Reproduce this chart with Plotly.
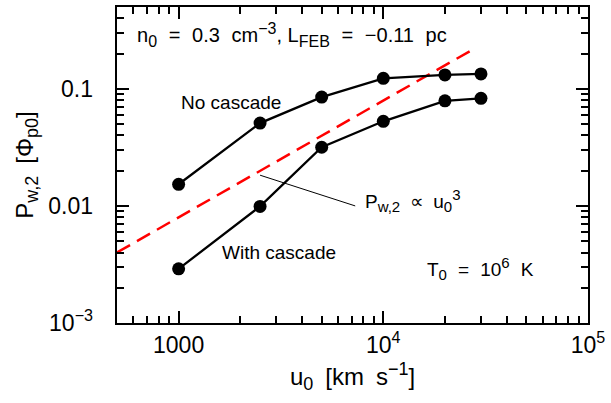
import plotly.graph_objects as go

# Wind power vs. inflow speed, with and without the turbulent cascade
u0 = [1000, 2500, 5000, 10000, 20000, 30000]
p_no_cascade = [0.0153, 0.051, 0.085, 0.123, 0.1315, 0.134]
p_with_cascade = [0.0029, 0.0099, 0.0317, 0.0528, 0.079, 0.083]

# reference power-law guide line
guide_u = [500, 28400]
guide_p = [0.004, 0.225]

# leader line from the guide to its label
leader_u = [2500, 7290]
leader_p = [0.0183, 0.0100]

x_tickvals = [1000, 1e4, 1e5]
x_ticktext = ["1000", "10<sup>4</sup>", "10<sup>5</sup>"]
y_tickvals = [1e-3, 0.01, 0.1]
y_ticktext = ["10<sup>\u22123</sup>", "0.01", "0.1"]

x_minor = [m * 10 ** e for e in (2, 3, 4) for m in range(2, 10) if 500 < m * 10 ** e < 1e5]
y_minor = [m * 10.0 ** e for e in (-3, -2, -1) for m in range(2, 10) if m * 10.0 ** e < 0.5]

FONT = "Liberation Sans, Arial, Helvetica, sans-serif"
SP = "\u2002"            # wide word gap
SP2 = "\u2002\u200a"     # wider gap
# invisible spacer that keeps the y tick labels clear of the frame
PAD = "<span style='color:rgba(0,0,0,0)'>\u20090</span>"


def sub(t, px=15):
    return f"<sub><span style='font-size:{px}px'>{t}</span></sub>"


def sup(t, px=15):
    return f"<sup><span style='font-size:{px}px'>{t}</span></sup>"


fig = go.Figure()

fig.add_trace(go.Scatter(
    x=guide_u, y=guide_p, mode="lines",
    line=dict(color="#ff0000", width=2.5, dash="15px,8px"),
    hoverinfo="skip",
))
fig.add_trace(go.Scatter(
    x=u0, y=p_no_cascade, mode="lines+markers",
    line=dict(color="black", width=2.3),
    marker=dict(color="black", size=13),
))
fig.add_trace(go.Scatter(
    x=u0, y=p_with_cascade, mode="lines+markers",
    line=dict(color="black", width=2.3),
    marker=dict(color="black", size=13),
))
fig.add_trace(go.Scatter(
    x=leader_u, y=leader_p, mode="lines",
    line=dict(color="black", width=1),
    hoverinfo="skip",
))

ann_font = dict(family=FONT, size=19, color="black")
annotations = [
    dict(x=0.038, y=0.912,
         text=(f"n{sub('0', 16)}{SP2}={SP2}0.3{SP2}cm{sup('\u22123', 16)}, "
               f"L{sub('FEB', 16)}{SP2}={SP2}\u22120.11{SP2}pc"),
         font=dict(family=FONT, size=20, color="black"),
         xanchor="left", yanchor="middle"),
    dict(x=0.132, y=0.698, text="No cascade", xanchor="left", yanchor="middle"),
    dict(x=0.219, y=0.2235, text="With cascade", xanchor="left", yanchor="middle"),
    dict(x=0.522, y=0.389, text=f"P{sub('w,2')}{SP}\u221d{SP}u{sub('0')}{sup('3')}",
         xanchor="left", yanchor="middle"),
    dict(x=0.654, y=0.172, text=f"T{sub('0')}{SP2}={SP2}10{sup('6')}{SP2}K",
         xanchor="left", yanchor="middle"),
]
for a in annotations:
    a.setdefault("font", ann_font)
    a.update(xref="paper", yref="paper", showarrow=False)

axis_common = dict(
    type="log",
    showgrid=False, zeroline=False,
    showline=True, linecolor="black", linewidth=2,
    mirror="allticks",
    ticks="inside", ticklen=12, tickwidth=2, tickcolor="black",
    tickfont=dict(family=FONT, size=23, color="black"),
    tickmode="array",
)

fig.update_layout(
    width=611, height=403,
    margin=dict(l=117, r=23, t=5, b=80),
    paper_bgcolor="white", plot_bgcolor="white",
    showlegend=False,
    annotations=annotations,
    xaxis=dict(
        **axis_common,
        range=[2.69897, 5],
        tickvals=x_tickvals, ticktext=x_ticktext,
        minor=dict(tickmode="array", tickvals=x_minor, ticks="inside",
                   ticklen=7, tickwidth=1.5, tickcolor="black", showgrid=False),
        title=dict(text=f"u{sub('0', 18)}{SP}[km{SP}s{sup('\u22121', 18)}]",
                   font=dict(family=FONT, size=24, color="black"), standoff=12),
    ),
    yaxis=dict(
        **axis_common,
        range=[-3, -0.30103],
        tickvals=y_tickvals, ticktext=[t + PAD for t in y_ticktext],
        minor=dict(tickmode="array", tickvals=y_minor, ticks="inside",
                   ticklen=7, tickwidth=1.5, tickcolor="black", showgrid=False),
        title=dict(text=f"P{sub('w,2', 18)}{SP}[\u03a6{sub('p0', 18)}]",
                   font=dict(family=FONT, size=24, color="black"), standoff=8),
    ),
)

fig.write_html("out.html")
